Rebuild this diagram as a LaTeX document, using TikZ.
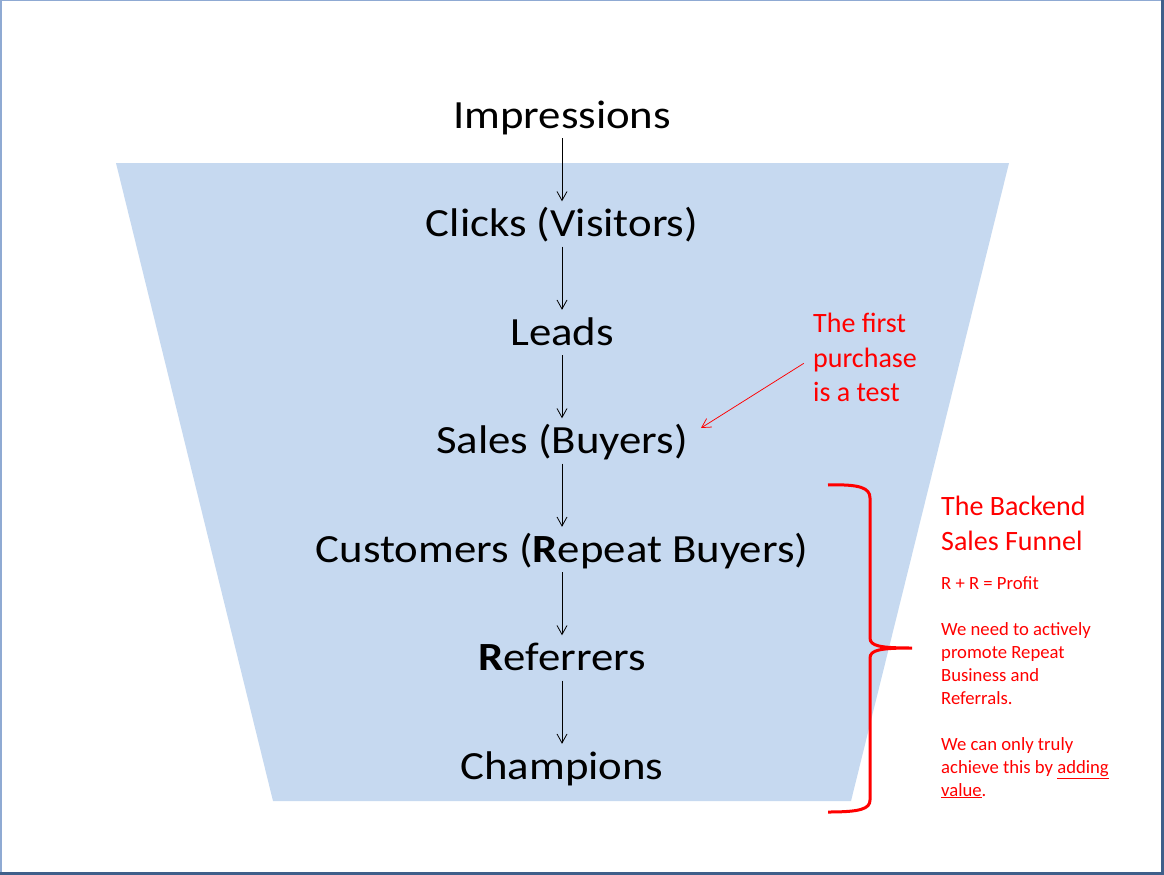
\documentclass[tikz,border=0pt]{standalone}
\usepackage{fontspec}
\setmainfont{Carlito}
\newfontfamily\stagefont[FakeStretch=1.12]{Carlito}
\usepackage{tikz}
\usetikzlibrary{arrows.meta}
\definecolor{funnelblue}{HTML}{C6D9F0}
\definecolor{framelight}{HTML}{8FAAD3}
\definecolor{framedark}{HTML}{3F5F8A}

\begin{document}
\begin{tikzpicture}[x=1pt,y=-1pt,
    stage/.style={anchor=base,inner sep=0pt,text height=35pt,text depth=10pt,font=\stagefont\fontsize{40}{48}\selectfont},
    flow/.style={-{Straight Barb[length=9pt,width=10pt]},line width=0.8pt},
    note/.style={red,align=left,anchor=north west,inner sep=0pt}]%
  \useasboundingbox (0,0) rectangle (1164,875);%
  \fill [white] (0,0) rectangle (1164,875);%
  \draw [framelight,line width=1.5pt] (0.75,875) -- (0.75,0.75) -- (1164,0.75);%
  \fill [framedark] (1161,0) rectangle (1164,875);%
  \fill [framedark] (0,872) rectangle (1164,875);%
  % funnel
  \fill [funnelblue] (116,163) -- (1009,163) -- (851,801) -- (273,801) -- cycle;%
  \node [stage] (Imp) at (562,128) {Impressions};%
  \node [stage] (Cli) at (562,236.5) {Clicks (Visitors)};%
  \node [stage] (Lea) at (562,345) {Leads};%
  \node [stage] (Sal) at (562,453.5) {Sales (Buyers)};%
  \node [stage] (Cus) at (562,562) {Customers (\textbf{R}epeat Buyers)};%
  \node [stage] (Ref) at (562,670.5) {\textbf{R}eferrers};%
  \node [stage] (Cha) at (562,779) {Champions};%
  \draw [flow] (Imp) to (Cli);%
  \draw [flow] (Cli) to (Lea);%
  \draw [flow] (Lea) to (Sal);%
  \draw [flow] (Sal) to (Cus);%
  \draw [flow] (Cus) to (Ref);%
  \draw [flow] (Ref) to (Cha);%
  % notes
  \node [note,font=\fontsize{28}{34.5}\selectfont] (Test) at (813,313) {The first\\purchase\\is a test};%
  \coordinate (Tip) at (701,428);%
  \draw [flow,red,line width=0.75pt,shorten <=11pt] (Test.west) to (Tip);%
  \draw [red,line width=3pt] (828,485) .. controls (860,484) and (870,488) .. (870,498) -- (870,638) .. controls (870,646) and (880,648) .. (912,648) .. controls (880,648) and (870,650) .. (870,658) -- (870,800) .. controls (870,809) and (860,812) .. (828,812);%
  \node [note,font=\fontsize{28}{35}\selectfont] (Back) at (941,495.5) {The Backend\\Sales Funnel};%
  \node [note,font=\fontsize{18.67}{23}\selectfont] (Body) at (941,576) {R + R = Profit\\[23pt]We need to actively\\promote Repeat\\Business and\\Referrals.\\[23pt]We can only truly\\achieve this by \underline{adding}\\\underline{value}.};%
\end{tikzpicture}
\end{document}
